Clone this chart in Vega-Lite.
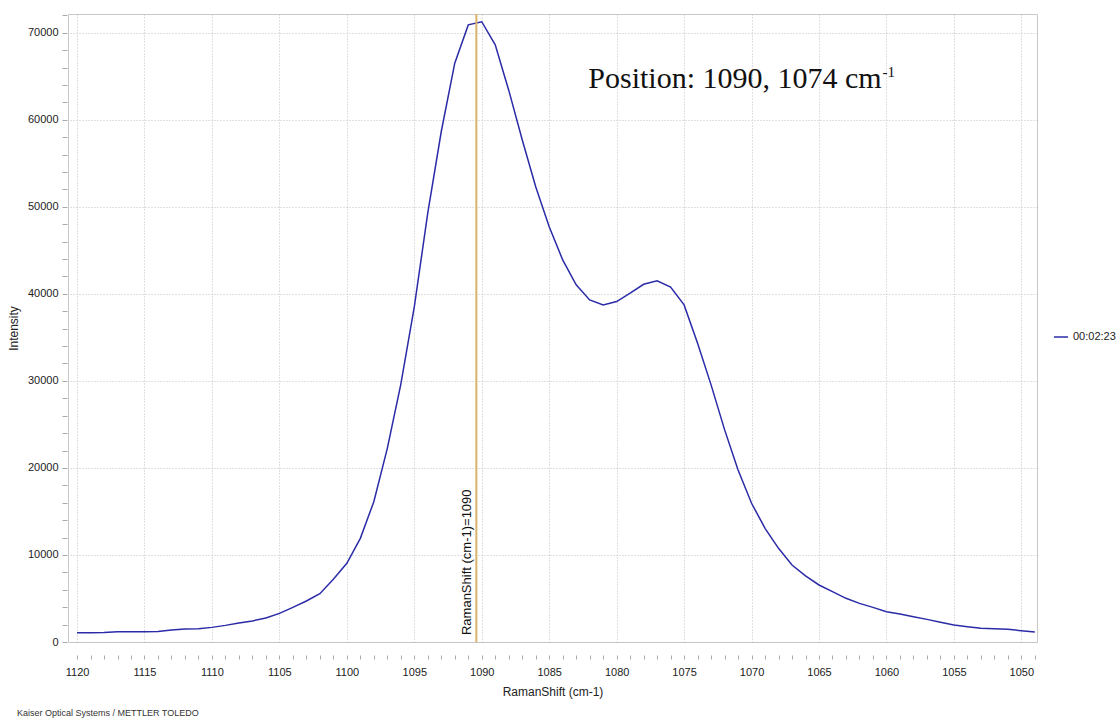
{
  "$schema": "https://vega.github.io/schema/vega-lite/v6.json",
  "width": 969,
  "height": 628,
  "autosize": "none",
  "padding": {"left": 68, "top": 14, "right": 80, "bottom": 80},
  "background": "white",
  "config": {
    "view": {"stroke": "#c8c8c8", "strokeWidth": 1},
    "font": "Liberation Sans",
    "axis": {
      "labelFont": "Liberation Sans",
      "titleFont": "Liberation Sans",
      "labelColor": "#222",
      "titleColor": "#222",
      "labelFontSize": 11,
      "titleFontSize": 12,
      "titleFontWeight": "normal",
      "tickColor": "#aaa",
      "domain": false,
      "gridColor": "#c0c0c0",
      "gridDash": [1, 2],
      "gridWidth": 1,
      "labelOverlap": false
    }
  },
  "title": {
    "text": "Kaiser Optical Systems / METTLER TOLEDO",
    "orient": "bottom",
    "anchor": "start",
    "font": "Liberation Sans",
    "fontSize": 9,
    "fontWeight": "normal",
    "color": "#333",
    "dx": 10,
    "offset": 12
  },
  "datasets": {
    "spectrum": [
      {"shift": 1120, "intensity": 1070, "series": "00:02:23"},
      {"shift": 1119, "intensity": 1070, "series": "00:02:23"},
      {"shift": 1118, "intensity": 1090, "series": "00:02:23"},
      {"shift": 1117, "intensity": 1185, "series": "00:02:23"},
      {"shift": 1116, "intensity": 1185, "series": "00:02:23"},
      {"shift": 1115, "intensity": 1190, "series": "00:02:23"},
      {"shift": 1114, "intensity": 1220, "series": "00:02:23"},
      {"shift": 1113, "intensity": 1380, "series": "00:02:23"},
      {"shift": 1112, "intensity": 1490, "series": "00:02:23"},
      {"shift": 1111, "intensity": 1530, "series": "00:02:23"},
      {"shift": 1110, "intensity": 1680, "series": "00:02:23"},
      {"shift": 1109, "intensity": 1910, "series": "00:02:23"},
      {"shift": 1108, "intensity": 2180, "series": "00:02:23"},
      {"shift": 1107, "intensity": 2420, "series": "00:02:23"},
      {"shift": 1106, "intensity": 2760, "series": "00:02:23"},
      {"shift": 1105, "intensity": 3290, "series": "00:02:23"},
      {"shift": 1104, "intensity": 3980, "series": "00:02:23"},
      {"shift": 1103, "intensity": 4710, "series": "00:02:23"},
      {"shift": 1102, "intensity": 5550, "series": "00:02:23"},
      {"shift": 1101, "intensity": 7200, "series": "00:02:23"},
      {"shift": 1100, "intensity": 9040, "series": "00:02:23"},
      {"shift": 1099, "intensity": 11910, "series": "00:02:23"},
      {"shift": 1098, "intensity": 16120, "series": "00:02:23"},
      {"shift": 1097, "intensity": 22250, "series": "00:02:23"},
      {"shift": 1096, "intensity": 29600, "series": "00:02:23"},
      {"shift": 1095, "intensity": 38500, "series": "00:02:23"},
      {"shift": 1094, "intensity": 49300, "series": "00:02:23"},
      {"shift": 1093, "intensity": 58650, "series": "00:02:23"},
      {"shift": 1092, "intensity": 66500, "series": "00:02:23"},
      {"shift": 1091, "intensity": 70900, "series": "00:02:23"},
      {"shift": 1090, "intensity": 71260, "series": "00:02:23"},
      {"shift": 1089, "intensity": 68600, "series": "00:02:23"},
      {"shift": 1088, "intensity": 63400, "series": "00:02:23"},
      {"shift": 1087, "intensity": 57700, "series": "00:02:23"},
      {"shift": 1086, "intensity": 52300, "series": "00:02:23"},
      {"shift": 1085, "intensity": 47700, "series": "00:02:23"},
      {"shift": 1084, "intensity": 43900, "series": "00:02:23"},
      {"shift": 1083, "intensity": 41030, "series": "00:02:23"},
      {"shift": 1082, "intensity": 39300, "series": "00:02:23"},
      {"shift": 1081, "intensity": 38730, "series": "00:02:23"},
      {"shift": 1080, "intensity": 39110, "series": "00:02:23"},
      {"shift": 1079, "intensity": 40070, "series": "00:02:23"},
      {"shift": 1078, "intensity": 41100, "series": "00:02:23"},
      {"shift": 1077, "intensity": 41490, "series": "00:02:23"},
      {"shift": 1076, "intensity": 40770, "series": "00:02:23"},
      {"shift": 1075, "intensity": 38730, "series": "00:02:23"},
      {"shift": 1074, "intensity": 34330, "series": "00:02:23"},
      {"shift": 1073, "intensity": 29540, "series": "00:02:23"},
      {"shift": 1072, "intensity": 24400, "series": "00:02:23"},
      {"shift": 1071, "intensity": 19760, "series": "00:02:23"},
      {"shift": 1070, "intensity": 15940, "series": "00:02:23"},
      {"shift": 1069, "intensity": 13060, "series": "00:02:23"},
      {"shift": 1068, "intensity": 10760, "series": "00:02:23"},
      {"shift": 1067, "intensity": 8850, "series": "00:02:23"},
      {"shift": 1066, "intensity": 7590, "series": "00:02:23"},
      {"shift": 1065, "intensity": 6550, "series": "00:02:23"},
      {"shift": 1064, "intensity": 5780, "series": "00:02:23"},
      {"shift": 1063, "intensity": 5020, "series": "00:02:23"},
      {"shift": 1062, "intensity": 4440, "series": "00:02:23"},
      {"shift": 1061, "intensity": 3980, "series": "00:02:23"},
      {"shift": 1060, "intensity": 3480, "series": "00:02:23"},
      {"shift": 1059, "intensity": 3220, "series": "00:02:23"},
      {"shift": 1058, "intensity": 2900, "series": "00:02:23"},
      {"shift": 1057, "intensity": 2600, "series": "00:02:23"},
      {"shift": 1056, "intensity": 2260, "series": "00:02:23"},
      {"shift": 1055, "intensity": 1950, "series": "00:02:23"},
      {"shift": 1054, "intensity": 1760, "series": "00:02:23"},
      {"shift": 1053, "intensity": 1570, "series": "00:02:23"},
      {"shift": 1052, "intensity": 1530, "series": "00:02:23"},
      {"shift": 1051, "intensity": 1460, "series": "00:02:23"},
      {"shift": 1050, "intensity": 1300, "series": "00:02:23"},
      {"shift": 1049, "intensity": 1150, "series": "00:02:23"}
    ],
    "marker": [
      {"shift": 1090.4, "label": "RamanShift (cm-1)=1090"}
    ],
    "note": [
      {"shift": 1082.1, "intensity": 63600, "text": "Position: 1090, 1074 cm"}
    ],
    "sup": [
      {"shift": 1060.3, "intensity": 64900, "text": "-1"}
    ]
  },
  "encoding": {
    "x": {
      "field": "shift",
      "type": "quantitative",
      "scale": {"domain": [1048.84, 1120.67], "reverse": true, "nice": false, "zero": false},
      "axis": {
        "title": "RamanShift (cm-1)",
        "offset": 13,
        "tickCount": 500,
        "values": [1049,1050,1051,1052,1053,1054,1055,1056,1057,1058,1059,1060,1061,1062,1063,1064,1065,1066,1067,1068,1069,1070,1071,1072,1073,1074,1075,1076,1077,1078,1079,1080,1081,1082,1083,1084,1085,1086,1087,1088,1089,1090,1091,1092,1093,1094,1095,1096,1097,1098,1099,1100,1101,1102,1103,1104,1105,1106,1107,1108,1109,1110,1111,1112,1113,1114,1115,1116,1117,1118,1119,1120],
        "format": "d",
        "labelExpr": "datum.value % 5 === 0 ? datum.label : ''",
        "grid": true,
        "gridOpacity": {"condition": {"test": "datum.value % 5 === 0", "value": 1}, "value": 0},
        "tickSize": 4,
        "labelPadding": 7,
        "titlePadding": 9
      }
    }
  },
  "layer": [
    {
      "data": {"name": "spectrum"},
      "mark": {"type": "line", "strokeWidth": 1.5, "interpolate": "linear"},
      "encoding": {
        "y": {
          "field": "intensity",
          "type": "quantitative",
          "scale": {"domain": [0, 72150], "nice": false, "zero": true},
          "axis": {
            "title": "Intensity",
            "tickCount": 500,
            "values": [0,2000,4000,6000,8000,10000,12000,14000,16000,18000,20000,22000,24000,26000,28000,30000,32000,34000,36000,38000,40000,42000,44000,46000,48000,50000,52000,54000,56000,58000,60000,62000,64000,66000,68000,70000,72000],
            "format": "d",
            "labelExpr": "datum.value % 10000 === 0 ? datum.label : ''",
            "grid": true,
            "gridOpacity": {"condition": {"test": "datum.value % 10000 === 0", "value": 1}, "value": 0},
            "tickSize": 5,
            "offset": 1,
            "labelPadding": 4,
            "titleX": -54,
            "titleY": 314,
            "titleAngle": 270,
            "titleAlign": "center",
            "titleBaseline": "middle"
          }
        },
        "color": {
          "field": "series",
          "type": "nominal",
          "scale": {"range": ["#2b2ba8"]},
          "legend": {
            "orient": "none",
            "legendX": 985,
            "legendY": 315,
            "title": null,
            "padding": 0,
            "symbolType": "stroke",
            "symbolSize": 200,
            "symbolStrokeWidth": 1.5,
            "labelFontSize": 11,
            "labelFont": "Liberation Sans",
            "labelColor": "#222"
          }
        }
      }
    },
    {
      "data": {"name": "marker"},
      "mark": {"type": "rule", "color": "#d9b26c", "strokeWidth": 2},
      "encoding": {}
    },
    {
      "data": {"name": "marker"},
      "mark": {"type": "text", "angle": 270, "align": "left", "baseline": "bottom", "dy": -2, "fontSize": 13, "font": "Liberation Sans", "color": "#111"},
      "encoding": {
        "y": {"datum": 800, "type": "quantitative"},
        "text": {"field": "label"}
      }
    },
    {
      "data": {"name": "note"},
      "mark": {"type": "text", "align": "left", "baseline": "alphabetic", "fontSize": 30, "font": "Liberation Serif", "color": "#111"},
      "encoding": {
        "y": {"field": "intensity", "type": "quantitative"},
        "text": {"field": "text"}
      }
    },
    {
      "data": {"name": "sup"},
      "mark": {"type": "text", "align": "left", "baseline": "alphabetic", "fontSize": 15, "font": "Liberation Serif", "color": "#111"},
      "encoding": {
        "y": {"field": "intensity", "type": "quantitative"},
        "text": {"field": "text"}
      }
    }
  ]
}
